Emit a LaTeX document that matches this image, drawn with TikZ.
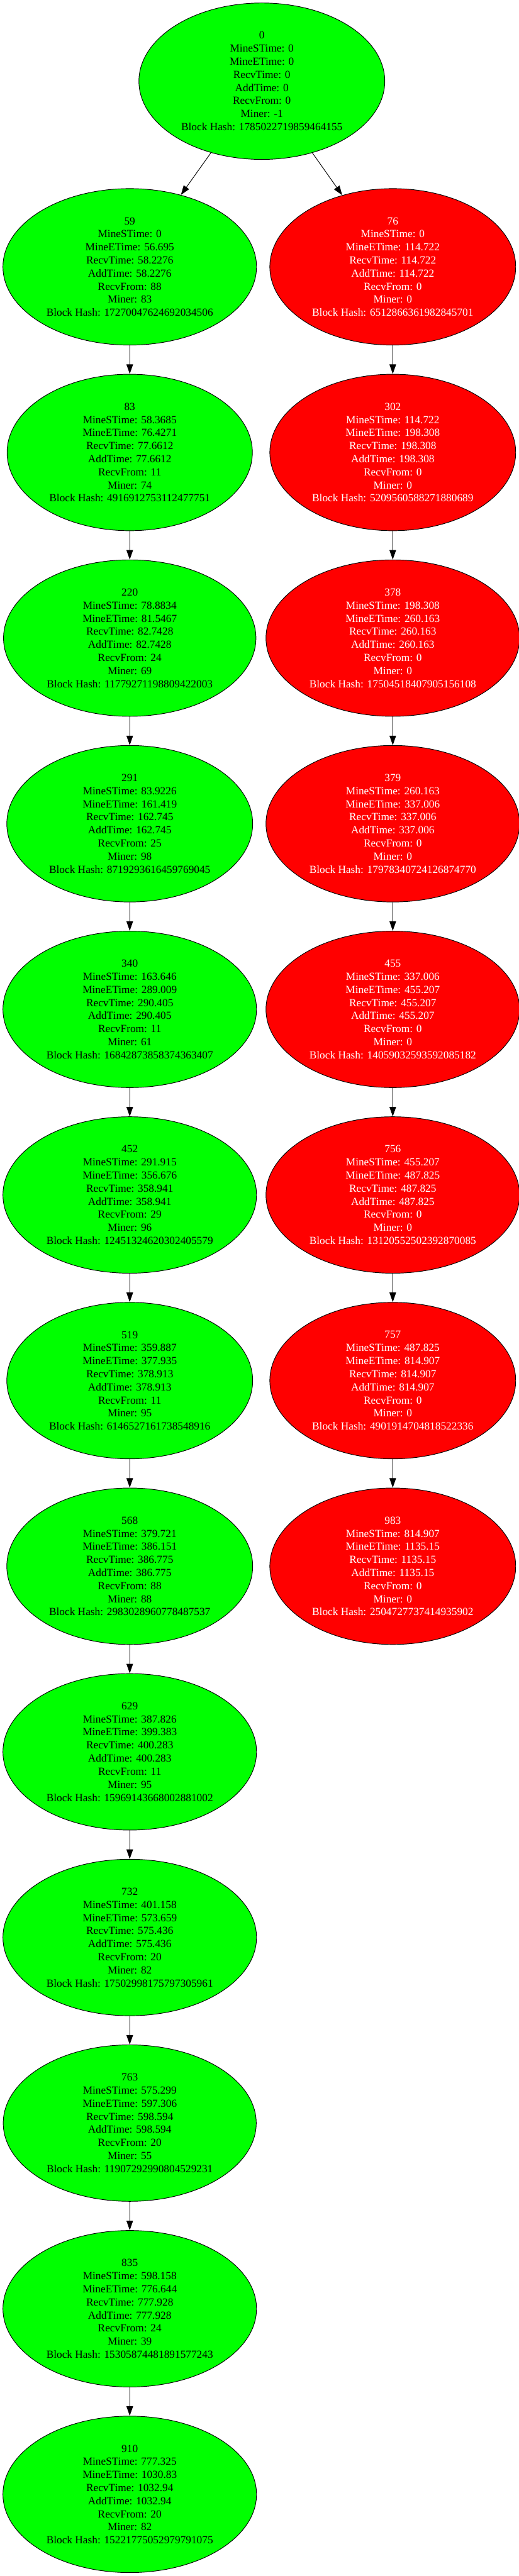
\documentclass[tikz,border=0pt]{standalone}
\usepackage{fontspec}
\setmainfont{Liberation Serif}
\usepackage{xcolor}
\usepackage{tikz}
\usetikzlibrary{shapes.geometric,arrows.meta}
\definecolor{okgreen}{RGB}{0,255,0}
\definecolor{forkred}{RGB}{255,0,0}

\begin{document}
\begin{tikzpicture}[
    blk/.style={draw=black, line width=0.5pt, ellipse, align=center,
                inner xsep=5.3pt, inner ysep=3pt, minimum height=131.5pt,
                font=\fontsize{9.15}{11}\selectfont},
    good/.style={blk, fill=okgreen, text=black},
    bad/.style={blk, fill=forkred, text=white},
    arr/.style={-{Triangle[length=8pt,width=5.5pt]}, line width=0.5pt, black},
]
    \useasboundingbox (0,0) rectangle (15.323,-76.09);
    % genesis
    \node[good] (b0) at (7.732,-2.399)
        {0\\MineSTime: 0\\MineETime: 0\\RecvTime: 0\\AddTime: 0\\RecvFrom: 0\\Miner: -1\\Block Hash: 1785022719859464155};
    % main chain
    \node[good] (b59) at (3.831,-7.882)
        {59\\MineSTime: 0\\MineETime: 56.695\\RecvTime: 58.2276\\AddTime: 58.2276\\RecvFrom: 88\\Miner: 83\\Block Hash: 17270047624692034506};
    \node[good] (b83) at (3.831,-13.365)
        {83\\MineSTime: 58.3685\\MineETime: 76.4271\\RecvTime: 77.6612\\AddTime: 77.6612\\RecvFrom: 11\\Miner: 74\\Block Hash: 4916912753112477751};
    \node[good] (b220) at (3.831,-18.848)
        {220\\MineSTime: 78.8834\\MineETime: 81.5467\\RecvTime: 82.7428\\AddTime: 82.7428\\RecvFrom: 24\\Miner: 69\\Block Hash: 11779271198809422003};
    \node[good] (b291) at (3.831,-24.331)
        {291\\MineSTime: 83.9226\\MineETime: 161.419\\RecvTime: 162.745\\AddTime: 162.745\\RecvFrom: 25\\Miner: 98\\Block Hash: 8719293616459769045};
    \node[good] (b340) at (3.831,-29.814)
        {340\\MineSTime: 163.646\\MineETime: 289.009\\RecvTime: 290.405\\AddTime: 290.405\\RecvFrom: 11\\Miner: 61\\Block Hash: 16842873858374363407};
    \node[good] (b452) at (3.831,-35.297)
        {452\\MineSTime: 291.915\\MineETime: 356.676\\RecvTime: 358.941\\AddTime: 358.941\\RecvFrom: 29\\Miner: 96\\Block Hash: 12451324620302405579};
    \node[good] (b519) at (3.831,-40.780)
        {519\\MineSTime: 359.887\\MineETime: 377.935\\RecvTime: 378.913\\AddTime: 378.913\\RecvFrom: 11\\Miner: 95\\Block Hash: 6146527161738548916};
    \node[good] (b568) at (3.831,-46.263)
        {568\\MineSTime: 379.721\\MineETime: 386.151\\RecvTime: 386.775\\AddTime: 386.775\\RecvFrom: 88\\Miner: 88\\Block Hash: 2983028960778487537};
    \node[good] (b629) at (3.831,-51.746)
        {629\\MineSTime: 387.826\\MineETime: 399.383\\RecvTime: 400.283\\AddTime: 400.283\\RecvFrom: 11\\Miner: 95\\Block Hash: 15969143668002881002};
    \node[good] (b732) at (3.831,-57.229)
        {732\\MineSTime: 401.158\\MineETime: 573.659\\RecvTime: 575.436\\AddTime: 575.436\\RecvFrom: 20\\Miner: 82\\Block Hash: 17502998175797305961};
    \node[good] (b763) at (3.831,-62.712)
        {763\\MineSTime: 575.299\\MineETime: 597.306\\RecvTime: 598.594\\AddTime: 598.594\\RecvFrom: 20\\Miner: 55\\Block Hash: 11907292990804529231};
    \node[good] (b835) at (3.831,-68.195)
        {835\\MineSTime: 598.158\\MineETime: 776.644\\RecvTime: 777.928\\AddTime: 777.928\\RecvFrom: 24\\Miner: 39\\Block Hash: 15305874481891577243};
    \node[good] (b910) at (3.831,-73.678)
        {910\\MineSTime: 777.325\\MineETime: 1030.83\\RecvTime: 1032.94\\AddTime: 1032.94\\RecvFrom: 20\\Miner: 82\\Block Hash: 15221775052979791075};
    % fork
    \node[bad] (b76) at (11.598,-7.882)
        {76\\MineSTime: 0\\MineETime: 114.722\\RecvTime: 114.722\\AddTime: 114.722\\RecvFrom: 0\\Miner: 0\\Block Hash: 6512866361982845701};
    \node[bad] (b302) at (11.598,-13.365)
        {302\\MineSTime: 114.722\\MineETime: 198.308\\RecvTime: 198.308\\AddTime: 198.308\\RecvFrom: 0\\Miner: 0\\Block Hash: 5209560588271880689};
    \node[bad] (b378) at (11.598,-18.848)
        {378\\MineSTime: 198.308\\MineETime: 260.163\\RecvTime: 260.163\\AddTime: 260.163\\RecvFrom: 0\\Miner: 0\\Block Hash: 17504518407905156108};
    \node[bad] (b379) at (11.598,-24.331)
        {379\\MineSTime: 260.163\\MineETime: 337.006\\RecvTime: 337.006\\AddTime: 337.006\\RecvFrom: 0\\Miner: 0\\Block Hash: 17978340724126874770};
    \node[bad] (b455) at (11.598,-29.814)
        {455\\MineSTime: 337.006\\MineETime: 455.207\\RecvTime: 455.207\\AddTime: 455.207\\RecvFrom: 0\\Miner: 0\\Block Hash: 14059032593592085182};
    \node[bad] (b756) at (11.598,-35.297)
        {756\\MineSTime: 455.207\\MineETime: 487.825\\RecvTime: 487.825\\AddTime: 487.825\\RecvFrom: 0\\Miner: 0\\Block Hash: 13120552502392870085};
    \node[bad] (b757) at (11.598,-40.780)
        {757\\MineSTime: 487.825\\MineETime: 814.907\\RecvTime: 814.907\\AddTime: 814.907\\RecvFrom: 0\\Miner: 0\\Block Hash: 4901914704818522336};
    \node[bad] (b983) at (11.598,-46.263)
        {983\\MineSTime: 814.907\\MineETime: 1135.15\\RecvTime: 1135.15\\AddTime: 1135.15\\RecvFrom: 0\\Miner: 0\\Block Hash: 2504727737414935902};
    \draw[arr] (b0) -- (b59);
    \draw[arr] (b0) -- (b76);
    \draw[arr] (b59) -- (b83);
    \draw[arr] (b83) -- (b220);
    \draw[arr] (b220) -- (b291);
    \draw[arr] (b291) -- (b340);
    \draw[arr] (b340) -- (b452);
    \draw[arr] (b452) -- (b519);
    \draw[arr] (b519) -- (b568);
    \draw[arr] (b568) -- (b629);
    \draw[arr] (b629) -- (b732);
    \draw[arr] (b732) -- (b763);
    \draw[arr] (b763) -- (b835);
    \draw[arr] (b835) -- (b910);
    \draw[arr] (b76) -- (b302);
    \draw[arr] (b302) -- (b378);
    \draw[arr] (b378) -- (b379);
    \draw[arr] (b379) -- (b455);
    \draw[arr] (b455) -- (b756);
    \draw[arr] (b756) -- (b757);
    \draw[arr] (b757) -- (b983);
\end{tikzpicture}
\end{document}
